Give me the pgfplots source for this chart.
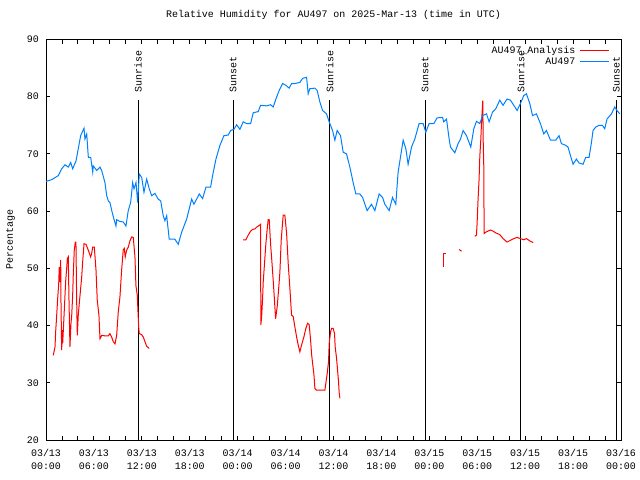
\documentclass[border=0pt]{standalone}
\usepackage{pgfplots}
\pgfplotsset{compat=1.18}
\usepackage{fontspec}
\setmainfont{Liberation Mono}
\definecolor{anared}{RGB}{255,0,0}
\definecolor{obsblue}{RGB}{0,128,255}
\begin{document}
\begin{tikzpicture}
\path[use as bounding box] (0,0) rectangle (640bp,480bp);
\begin{axis}[
  at={(46bp,40bp)}, anchor=south west,
  scale only axis, width=575bp, height=400.5bp,
  xmin=0, xmax=72, ymin=20, ymax=90,
  clip=false,
  font=\fontsize{10}{12}\selectfont,
  /pgf/number format/assume math mode=true,
  axis line style={line width=0.9bp},
  every tick/.style={black, line width=0.9bp},
  tick align=inside,
  major tick length=4bp, minor tick length=4bp,
  xtick={0,6,...,72},
  minor xtick={2,4,8,10,14,16,20,22,26,28,32,34,38,40,44,46,50,52,56,58,62,64,68,70},
  xticklabels={{03/13\\00:00},{03/13\\06:00},{03/13\\12:00},{03/13\\18:00},
               {03/14\\00:00},{03/14\\06:00},{03/14\\12:00},{03/14\\18:00},
               {03/15\\00:00},{03/15\\06:00},{03/15\\12:00},{03/15\\18:00},
               {03/16\\00:00}},
  xticklabel style={align=center, font=\fontsize{10}{13.3}\selectfont, inner sep=0pt, anchor=north, yshift=-9bp},
  ytick={20,30,...,90},
  yticklabel style={inner sep=0pt, anchor=east, xshift=-7bp},
  ylabel={Percentage},
  ylabel style={at={(axis description cs:0,0.5)}, anchor=center, yshift=35.5bp, inner sep=0pt},
  title={Relative Humidity for AU497 on 2025-Mar-13 (time in UTC)},
  title style={at={(0.5,1)}, anchor=base, yshift=16bp, inner sep=0pt},
  legend style={at={(1,1)}, anchor=north east, xshift=-11bp, yshift=-5bp,
    draw=none, fill=none, inner sep=0pt, row sep=0pt, column sep=4bp,
    nodes={inner sep=0.5bp, text height=8bp, text depth=2.5bp},
    font=\fontsize{10}{12}\selectfont},
  legend cell align=right,
  legend plot pos=right,
  legend image code/.code={\draw[#1] (0bp,0bp) -- (29bp,0bp);},
]
% Sunrise / sunset markers
\addplot[black, line width=1bp, forget plot] coordinates {(11.52,20) (11.52,79.5)};
\addplot[black, line width=1bp, forget plot] coordinates {(35.54,20) (35.54,79.5)};
\addplot[black, line width=1bp, forget plot] coordinates {(59.45,20) (59.45,79.5)};
\addplot[black, line width=1bp, forget plot] coordinates {(23.42,20) (23.42,79.5)};
\addplot[black, line width=1bp, forget plot] coordinates {(47.47,20) (47.47,79.5)};
\addplot[black, line width=1bp, forget plot] coordinates {(71.43,20) (71.43,79.5)};
\node[rotate=90, anchor=west, inner sep=0pt] at (axis cs:11.52,80.7) {Sunrise};
\node[rotate=90, anchor=west, inner sep=0pt] at (axis cs:35.54,80.7) {Sunrise};
\node[rotate=90, anchor=west, inner sep=0pt] at (axis cs:59.45,80.7) {Sunrise};
\node[rotate=90, anchor=west, inner sep=0pt] at (axis cs:23.42,80.7) {Sunset};
\node[rotate=90, anchor=west, inner sep=0pt] at (axis cs:47.47,80.7) {Sunset};
\node[rotate=90, anchor=west, inner sep=0pt] at (axis cs:71.43,80.7) {Sunset};

% Analysis (red)
\addplot[anared, line width=1bp] coordinates {
(0.91,34.8) (1.13,36.3) (1.21,38.9) (1.34,41.8) (1.46,44.7) (1.59,47.3) (1.66,50.2)
(1.75,47.6) (1.84,51.5) (1.88,43.6) (1.96,35.7) (2.04,39.2) (2.09,36.9) (2.25,41.5)
(2.38,45.3) (2.47,47.9) (2.59,50.0) (2.67,51.7) (2.79,52.0) (2.88,44.4) (3.00,36.3)
(3.13,40.4) (3.22,41.8) (3.34,45.3) (3.42,49.1) (3.54,53.2) (3.67,54.6) (3.75,54.6)
(3.84,44.4) (3.92,38.3) (4.04,41.8) (4.17,43.9) (4.34,46.5) (4.47,48.5) (4.59,51.1)
(4.76,54.3) (5.01,54.2) (5.29,53.2) (5.59,52.0) (5.72,52.6) (5.84,53.7) (6.05,53.7)
(6.26,49.7) (6.42,44.4) (6.63,41.8) (6.76,37.7) (6.97,38.3) (7.38,38.2) (7.80,38.2)
(8.01,38.6) (8.22,38.0) (8.42,37.2) (8.64,36.8) (8.85,38.3) (9.05,42.4) (9.26,45.0)
(9.47,49.7) (9.67,53.2) (9.80,53.5) (9.92,52.0) (10.10,53.2) (10.30,53.7) (10.51,54.8)
(10.73,55.5) (10.93,55.4) (11.14,52.0) (11.26,47.0) (11.43,45.3) (11.51,42.7)
(11.60,39.8) (11.68,38.6) (11.98,38.4) (12.18,38.0) (12.39,37.2) (12.60,36.4) (12.93,36.0)
};
\addlegendentry{AU497\_Analysis}
\addplot[anared, line width=1bp, forget plot] coordinates {
(24.69,55.0) (25.03,55.0) (25.32,55.8) (25.62,56.5) (25.87,56.8) (26.16,56.9) (26.37,57.2)
(26.70,57.5) (26.87,57.7) (26.90,40.1) (27.00,41.5) (27.12,44.7) (27.20,47.6) (27.32,50.0)
(27.53,54.3) (27.70,56.9) (27.82,58.5) (27.95,58.5) (28.12,54.3) (28.29,51.1) (28.45,47.9)
(28.57,45.3) (28.75,41.2) (28.95,43.3) (29.12,46.2) (29.29,49.4) (29.45,54.9) (29.70,59.3)
(29.91,59.3) (30.13,56.1) (30.33,50.8) (30.54,46.5) (30.75,41.8) (30.95,41.6) (31.16,39.8)
(31.38,38.0) (31.58,36.6) (31.79,35.4) (32.00,36.6) (32.29,38.0) (32.54,39.5) (32.75,40.4)
(32.95,40.2) (33.13,37.5) (33.25,35.1) (33.38,33.4) (33.54,31.6) (33.67,29.0) (33.88,28.7)
(34.92,28.7) (35.04,29.9) (35.21,31.6) (35.38,33.7) (35.46,36.9) (35.63,38.9) (35.76,39.5)
(35.96,39.5) (36.13,38.6) (36.21,36.3) (36.38,34.3) (36.51,32.2) (36.63,30.2) (36.71,28.3)
(36.80,27.3)
};
\addplot[anared, line width=1bp, forget plot] coordinates {
(49.72,50.3) (49.72,52.6) (50.06,52.6)
};
\addplot[anared, line width=1bp, forget plot] coordinates {
(51.73,53.3) (52.03,53.0)
};
\addplot[anared, line width=1bp, forget plot] coordinates {
(53.69,55.6) (53.90,55.8) (53.98,57.8) (54.10,62.0) (54.23,65.6) (54.32,69.5) (54.44,72.4)
(54.53,75.3) (54.61,77.3) (54.69,79.3) (54.75,72.0) (54.82,67.7) (54.86,56.1)
(55.16,56.4) (55.66,56.7) (55.98,56.5) (56.32,56.2) (56.82,55.9) (57.23,55.2) (57.73,54.6)
(58.16,54.9) (58.57,55.2) (58.99,55.4) (59.41,55.2) (59.82,55.0) (60.16,55.2) (60.58,54.8)
(60.99,54.5)
};
% Observations (blue)
\addplot[obsblue, line width=1bp] coordinates {
(0.00,65.2) (0.71,65.5) (1.54,66.2) (1.96,67.4) (2.38,68.1) (2.79,67.7) (3.09,68.5)
(3.34,67.4) (3.76,68.8) (4.04,70.9) (4.34,73.2) (4.76,74.5) (4.88,72.6) (5.10,73.5)
(5.30,69.4) (5.60,69.4) (5.85,66.8) (5.92,67.9) (6.35,67.1) (6.76,67.7) (6.97,67.1)
(7.38,65.0) (7.60,62.7) (7.80,61.8) (8.01,61.5) (8.23,60.1) (8.51,58.6) (8.76,57.4)
(8.85,58.5) (9.26,58.2) (9.68,58.1) (10.01,57.4) (10.30,60.1) (10.60,61.5) (10.85,65.0)
(11.02,63.9) (11.27,65.0) (11.48,61.5) (11.68,66.5) (11.98,65.9) (12.27,63.3) (12.61,65.6)
(12.93,63.9) (13.23,62.7) (13.64,63.1) (14.05,62.1) (14.36,61.8) (14.68,59.2) (14.89,58.3)
(15.11,59.2) (15.43,55.1) (16.14,55.1) (16.56,54.2) (16.98,56.3) (17.61,58.6) (18.24,62.1)
(18.52,61.2) (18.86,62.1) (19.19,63.0) (19.61,62.2) (20.03,64.2) (20.61,64.2) (20.86,66.2)
(21.28,69.1) (21.78,71.5) (22.28,73.2) (22.82,73.3) (23.12,74.1) (23.53,74.3) (23.87,75.1)
(24.28,74.3) (24.69,75.6) (25.12,75.3) (25.62,75.3) (25.95,77.2) (26.57,77.4) (26.87,78.5)
(27.62,78.4) (28.12,78.6) (28.45,78.2) (28.79,79.6) (29.20,81.1) (29.62,82.3) (30.04,82.0)
(30.45,81.5) (30.75,82.3) (31.16,82.3) (31.79,82.5) (32.13,83.2) (32.63,83.4) (32.83,80.5)
(33.04,81.4) (33.67,81.5) (33.95,81.1) (34.29,79.1) (34.63,77.6) (35.13,77.0) (35.46,75.6)
(35.88,74.1) (36.17,72.4) (36.46,74.1) (36.88,73.2) (37.21,70.3) (37.63,70.0) (38.05,67.7)
(38.46,65.0) (38.80,63.0) (39.30,63.0) (39.64,62.4) (40.21,60.1) (40.76,61.2) (41.18,60.1)
(41.71,63.0) (42.14,62.4) (42.43,61.2) (42.97,60.1) (43.39,62.4) (43.80,61.2) (44.09,66.8)
(44.72,72.4) (45.06,70.9) (45.34,68.2) (45.77,71.2) (46.18,72.6) (46.72,75.3) (47.22,75.3)
(47.56,73.8) (47.97,75.3) (48.56,75.3) (48.97,76.3) (49.65,76.4) (49.81,75.6) (50.15,76.1)
(50.48,72.6) (50.65,71.2) (51.19,70.2) (51.60,71.8) (51.90,72.6) (52.23,74.1) (52.65,73.2)
(53.19,71.2) (53.57,74.4) (53.90,75.7) (54.32,75.3) (54.66,76.7) (55.16,77.0) (55.49,75.6)
(55.91,77.3) (56.32,77.9) (56.82,79.4) (57.23,78.5) (57.73,79.6) (58.16,79.4) (58.57,78.5)
(58.99,77.6) (59.41,78.8) (59.82,80.2) (60.16,80.5) (60.58,78.8) (60.92,76.7) (61.41,77.0)
(61.91,75.3) (62.33,73.5) (62.66,74.1) (63.17,72.4) (63.83,72.4) (64.24,73.2) (64.54,71.8)
(65.08,71.5) (65.37,71.2) (65.67,69.7) (66.00,68.2) (66.42,69.1) (66.75,68.4) (67.25,68.2)
(67.58,69.4) (68.00,69.4) (68.30,72.0) (68.50,74.1) (68.84,74.7) (69.25,75.0) (69.67,75.0)
(69.96,74.4) (70.25,76.1) (70.80,77.0) (71.21,78.2) (71.50,77.6) (71.84,77.0)
};
\addlegendentry{AU497}
\end{axis}
\end{tikzpicture}
\end{document}
